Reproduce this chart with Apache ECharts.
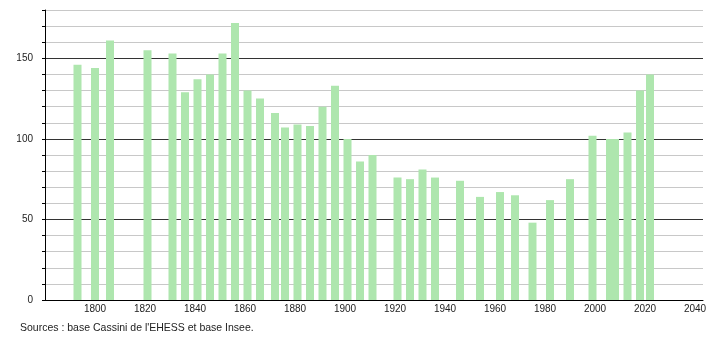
<!DOCTYPE html>
<html>
<head>
<meta charset="utf-8">
<script src="https://cdn.jsdelivr.net/npm/echarts@6/dist/echarts.min.js"></script>
<style>
html,body{margin:0;padding:0;background:#fff;}
#chart{width:710px;height:340px;}
</style>
</head>
<body>
<div id="chart"></div>
<script>
const years = [1793,1800,1806,1821,1831,1836,1841,1846,1851,1856,1861,1866,1872,1876,1881,1886,1891,1896,1901,1906,1911,1921,1926,1931,1936,1946,1954,1962,1968,1975,1982,1990,1999,2006,2008,2013,2018,2022];
const population = [146,144,161,155,153,129,137,140,153,172,130,125,116,107,109,108,120,133,100,86,90,76,75,81,76,74,64,67,65,48,62,75,102,100,100,104,130,140];
const xTickLabels = [1800,1820,1840,1860,1880,1900,1920,1940,1960,1980,2000,2020,2040];
const yTickLabels = [0,50,100,150];
const sourceText = "Sources : base Cassini de l'EHESS et base Insee.";

const chart = echarts.init(document.getElementById('chart'), null, {renderer: 'canvas'});
const font = 'Liberation Sans, Arial, sans-serif';
chart.setOption({
  animation: false,
  backgroundColor: '#fff',
  grid: {left: 45, top: 10, right: 7, bottom: 40, containLabel: false},
  xAxis: {
    type: 'value', min: 1780, max: 2043.2, interval: 20,
    axisLine: {show: true, lineStyle: {color: '#000', width: 1}},
    axisTick: {show: false},
    splitLine: {show: false},
    axisLabel: {
      margin: 4, fontFamily: font, fontSize: 10, color: '#222',
      showMinLabel: true, showMaxLabel: true,
      formatter: v => xTickLabels.includes(v) ? String(v) : ''
    }
  },
  yAxis: {
    type: 'value', min: 0, max: 180, interval: 10,
    axisLine: {show: true, lineStyle: {color: '#000', width: 1}},
    axisTick: {show: true, length: 3, lineStyle: {color: '#000'}},
    splitLine: {show: true, lineStyle: {color: ['#333', '#c8c8c8', '#c8c8c8', '#c8c8c8', '#c8c8c8'], width: 1}},
    axisLabel: {
      margin: 12, fontFamily: font, fontSize: 10, color: '#222',
      formatter: v => yTickLabels.includes(v) ? String(v) : ''
    }
  },
  series: [{
    type: 'bar',
    barWidth: 8,
    itemStyle: {color: '#aee6ae'},
    data: years.map((y, i) => [y, population[i]])
  }],
  graphic: [{
    type: 'text', left: 20, top: 323,
    style: {text: sourceText, font: '10.5px ' + font, fill: '#222'}
  }]
});
</script>
</body>
</html>
